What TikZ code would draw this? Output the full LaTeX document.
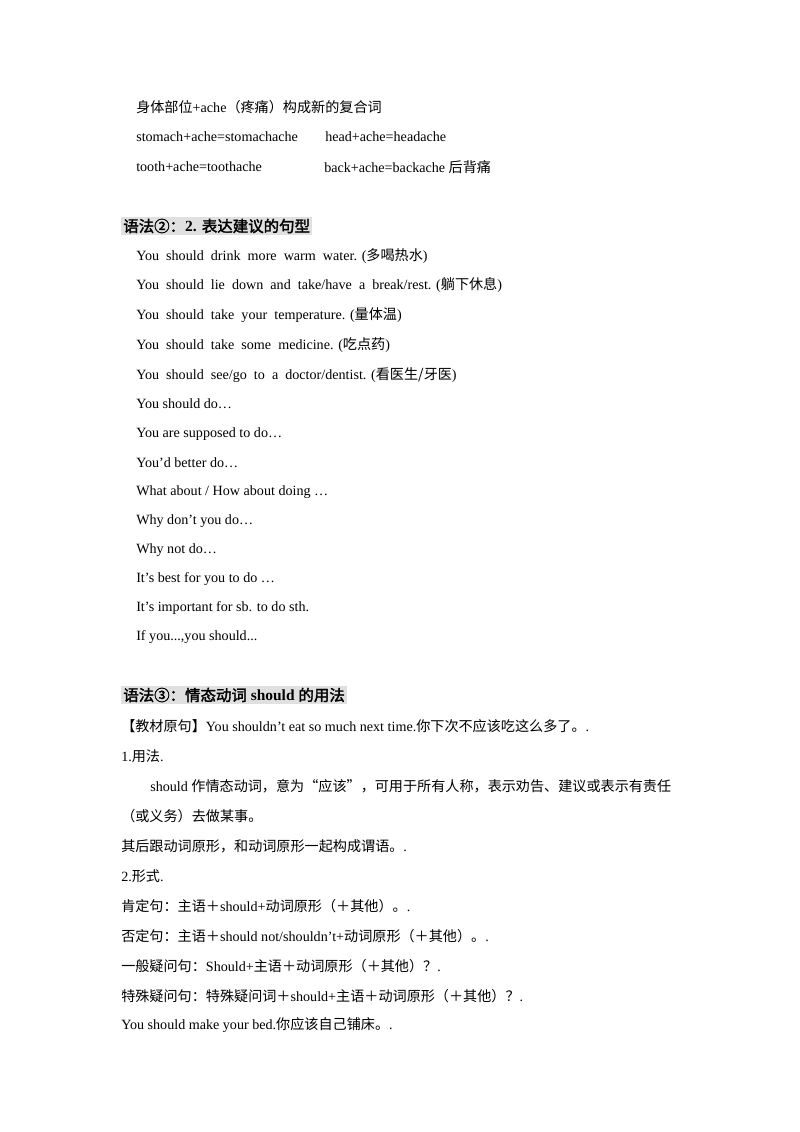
\documentclass[tikz,border=0pt]{standalone}
\usepackage{fontspec}
\setmainfont{Liberation Serif}
\newfontfamily\cjk{Noto Sans CJK SC}
\newfontfamily\cjkb[AutoFakeBold=2]{Noto Sans CJK SC}
\newcommand{\zh}[1]{{\cjk #1}}
\newcommand{\zhb}[1]{{\cjkb\bfseries #1}}
\usetikzlibrary{positioning}

\begin{document}
\begin{tikzpicture}[x=0.7441pt, y=-0.7441pt,
	txt/.style={anchor=west, inner sep=0pt, font=\fontsize{10.5}{12}\selectfont},
	head/.style={txt, font=\fontsize{11.5}{13}\selectfont\bfseries, fill=black!12, inner sep=1.5pt}]
	\useasboundingbox[fill=white] (0,0) rectangle (800,1132);
	% word building with ache
	\node[txt] (a0) at (136,107) {\zh{身体部位}+ache\zh{（疼痛）构成新的复合词}};
	\node[txt] (a1) at (136,137) {stomach+ache=stomachache};
	\node[txt] (a2) at (325,137) {head+ache=headache};
	\node[txt] (a3) at (136,167) {tooth+ache=toothache};
	\node[txt] (a4) at (324,167) {back+ache=backache \zh{后背痛}};
	% grammar 2
	\node[head] (h2) at (121,226) {\zhb{语法②：}2. \zhb{表达建议的句型}};
	\node[txt] (b1) at (136,256) {You \ should \ drink \ more \ warm \ water. (\zh{多喝热水})};
	\node[txt] (b2) at (136,285) {You \ should \ lie \ down \ and \ take/have \ a \ break/rest. (\zh{躺下休息})};
	\node[txt] (b3) at (136,315) {You \ should \ take \ your \ temperature. (\zh{量体温})};
	\node[txt] (b4) at (136,345) {You \ should \ take \ some \ medicine. (\zh{吃点药})};
	\node[txt] (b5) at (136,375) {You \ should \ see/go \ to \ a \ doctor/dentist. (\zh{看医生/牙医})};
	\node[txt] (b6) at (136,404) {You should do\ldots};
	\node[txt] (b7) at (136,434) {You are supposed to do\ldots};
	\node[txt] (b8) at (136,463) {You’d better do\ldots};
	\node[txt] (b9) at (136,492) {What about / How about doing \ldots};
	\node[txt] (b10) at (136,521) {Why don’t you do\ldots};
	\node[txt] (b11) at (136,550) {Why not do\ldots};
	\node[txt] (b12) at (136,579) {It’s best for you to do \ldots};
	\node[txt] (b13) at (136,608) {It’s important for sb. to do sth.};
	\node[txt] (b14) at (136,637) {If you...,you should...};
	% grammar 3
	\node[head] (h3) at (121,695) {\zhb{语法③：情态动词} should \zhb{的用法}};
	\node[txt] (c1) at (121,726) {\zh{【教材原句】}You shouldn't eat so much next time.\zh{你下次不应该吃这么多了。}.};
	\node[txt] (c2) at (121,756) {1.\zh{用法}.};
	\node[txt] (c3) at (150,786) {should \zh{作情态动词，意为“应该”，可用于所有人称，表示劝告、建议或表示有责任}};
	\node[txt] (c4) at (121,816) {\zh{（或义务）去做某事。}};
	\node[txt] (c5) at (121,846) {\zh{其后跟动词原形，和动词原形一起构成谓语。}.};
	\node[txt] (c6) at (121,876) {2.\zh{形式}.};
	\node[txt] (c7) at (121,906) {\zh{肯定句：主语＋}should+\zh{动词原形（＋其他）。}.};
	\node[txt] (c8) at (121,936) {\zh{否定句：主语＋}should not/shouldn't+\zh{动词原形（＋其他）。}.};
	\node[txt] (c9) at (121,966) {\zh{一般疑问句：}Should+\zh{主语＋动词原形（＋其他）？}.};
	\node[txt] (c10) at (121,996) {\zh{特殊疑问句：特殊疑问词＋}should+\zh{主语＋动词原形（＋其他）？}.};
	\node[txt] (c11) at (121,1025) {You should make your bed.\zh{你应该自己铺床。}.};
\end{tikzpicture}
\end{document}
